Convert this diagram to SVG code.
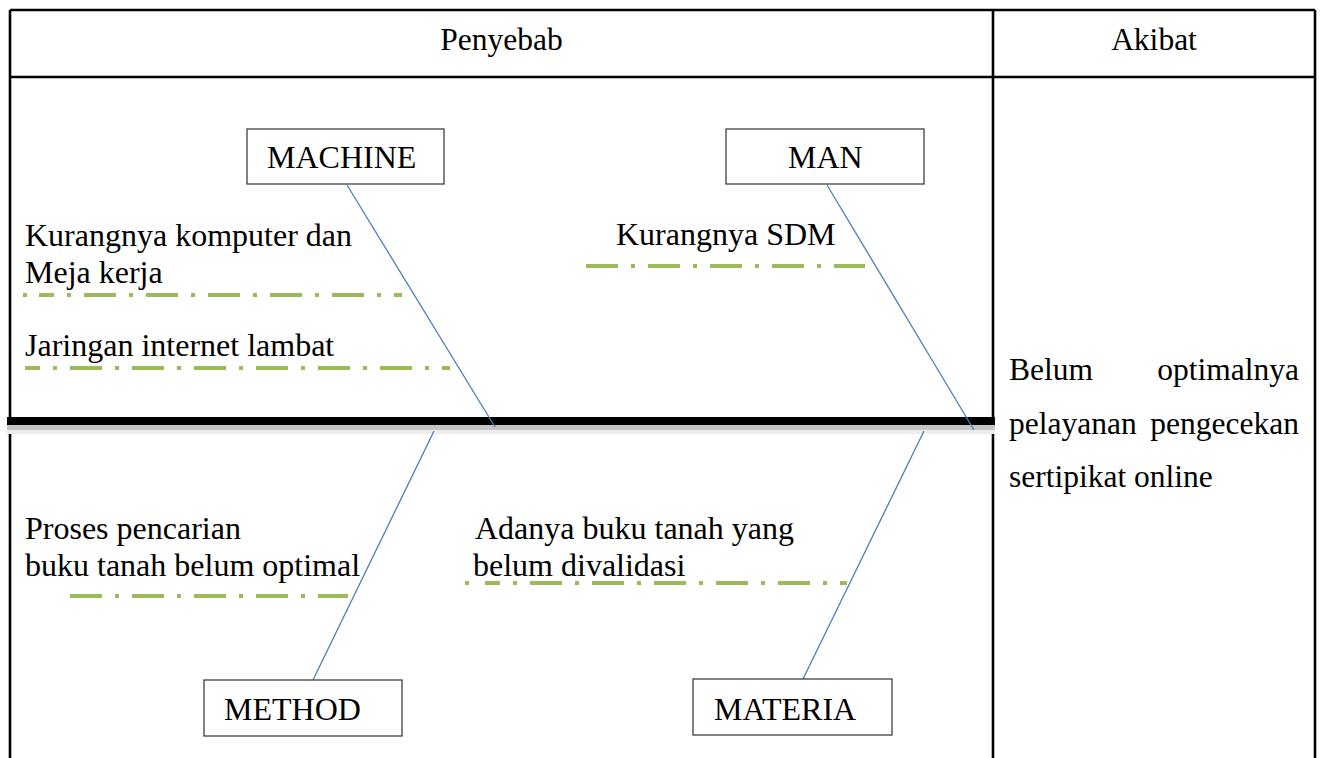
<svg xmlns="http://www.w3.org/2000/svg" width="1320" height="758" viewBox="0 0 1320 758">
<style>
text{font-family:"Liberation Serif","Times New Roman",serif;fill:#000;}
.h{font-size:31.5px;}
.t{font-size:32px;}
.box{fill:#fff;stroke:#404040;stroke-width:1.3;}
.grid{stroke:#000;stroke-width:2.6;fill:none;}
.bone{stroke:#4a7ebb;stroke-width:1.3;fill:none;}
.dd{stroke:#9bbb59;stroke-width:4;fill:none;stroke-dasharray:32 13 4 13;}
.dot{stroke:#9bbb59;stroke-width:4;fill:none;}
</style>
<rect width="1320" height="758" fill="#fff"/>
<g id="table">
<path class="grid" d="M10 10H1315M10 77H1315M10 10V758M1315 10V758M993 10V758"/>
<text class="h" x="501.5" y="50" text-anchor="middle">Penyebab</text>
<text class="h" x="1154" y="50" text-anchor="middle">Akibat</text>
</g>
<g id="spine">
<rect x="7" y="425" width="988" height="5" fill="#c4c4c4"/>
<rect x="7" y="430" width="988" height="4" fill="#ececec"/>
<rect x="7" y="417" width="988" height="8" fill="#000"/>
</g>
<g id="connectors">
<line class="bone" x1="347" y1="185" x2="495" y2="427"/>
<line class="bone" x1="827" y1="185" x2="974" y2="430"/>
<line class="bone" x1="434" y1="431" x2="313" y2="680"/>
<line class="bone" x1="924" y1="431" x2="803" y2="679"/>
<line class="dot" x1="23" y1="295" x2="27" y2="295"/>
<line class="dd" x1="39" y1="295" x2="402" y2="295" stroke-dashoffset="-45"/>
<line class="dd" x1="25" y1="368" x2="450" y2="368" stroke-dashoffset="-45"/>
<line class="dd" x1="586" y1="266" x2="865" y2="266"/>
<line class="dd" x1="70" y1="596" x2="348" y2="596"/>
<line class="dot" x1="465" y1="583" x2="469" y2="583"/>
<line class="dd" x1="485" y1="583" x2="847" y2="583" stroke-dashoffset="-45"/>
</g>
<g id="machine">
<rect class="box" x="247" y="129" width="197" height="55"/>
<text class="t" x="267" y="168">MACHINE</text>
</g>
<g id="man">
<rect class="box" x="726" y="129" width="198" height="55"/>
<text class="t" x="788" y="168">MAN</text>
</g>
<g id="method">
<rect class="box" x="204" y="680" width="198" height="56"/>
<text class="t" x="224" y="720">METHOD</text>
</g>
<g id="materia">
<rect class="box" x="693" y="679" width="199" height="56"/>
<text class="t" x="714" y="720">MATERIA</text>
</g>
<g id="labels">
<text class="t" x="25" y="246">Kurangnya komputer dan</text>
<text class="t" x="25" y="283">Meja kerja</text>
<text class="t" x="25" y="356">Jaringan internet lambat</text>
<text class="t" x="616" y="245">Kurangnya SDM</text>
<text class="t" x="25" y="539">Proses pencarian</text>
<text class="t" x="25" y="576">buku tanah belum optimal</text>
<text class="t" x="475" y="539">Adanya buku tanah yang</text>
<text class="t" x="473" y="576">belum divalidasi</text>
</g>
<g id="effect">
<text class="h"><tspan x="1009" y="380">Belum</tspan><tspan x="1299" y="380" text-anchor="end"> optimalnya</tspan></text>
<text class="h"><tspan x="1009" y="434">pelayanan</tspan><tspan x="1299" y="434" text-anchor="end"> pengecekan</tspan></text>
<text class="h" x="1009" y="487">sertipikat online</text>
</g>
</svg>
